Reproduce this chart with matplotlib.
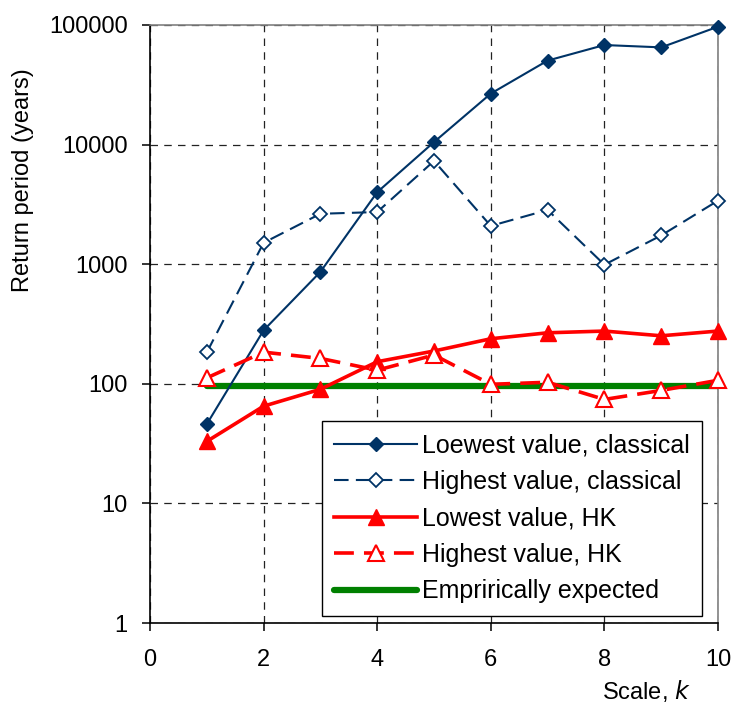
import matplotlib
matplotlib.use('Agg')
import matplotlib.pyplot as plt
from matplotlib.ticker import FixedLocator, FixedFormatter, NullLocator

plt.rcParams['font.family'] = ['Liberation Sans', 'DejaVu Sans']

# region [Data]
scale_k = [1, 2, 3, 4, 5, 6, 7, 8, 9, 10]

low_classical = [46, 280, 863, 4000, 10500, 26700, 50400, 68000, 65000, 96800]
high_classical = [183, 1510, 2640, 2730, 7300, 2090, 2840, 990, 1740, 3400]
low_hk = [33, 65, 90, 153, 188, 238, 267, 276, 252, 276]
high_hk = [112, 184, 163, 130, 174, 99, 103, 74, 88, 107]
expected = [96] * len(scale_k)

labels = ['Loewest value, classical', 'Highest value, classical',
          'Lowest value, HK', 'Highest value, HK', 'Emprirically expected']

x_ticks = [0, 2, 4, 6, 8, 10]
y_ticks = [1, 10, 100, 1000, 10000, 100000]
y_tick_labels = ['1', '10', '100', '1000', '10000', '100000']
# endregion

navy = '#003366'
red = '#ff0000'
green = '#008000'

fig = plt.figure(figsize=(7.34, 7.04), dpi=100)
ax = fig.add_axes([150 / 734, 1 - 623 / 704, 568 / 734, 598 / 704])

ax.set_yscale('log')
ax.set_xlim(0, 10)
ax.set_ylim(1, 100000)

ax.plot(scale_k, low_classical, color=navy, lw=1.5, marker='D', ms=7.5,
        mfc=navy, mec=navy, clip_on=False, zorder=5, label=labels[0])
ax.plot(scale_k, high_classical, color=navy, lw=1.5, ls=(0, (7, 3.5)),
        marker='D', ms=7.5, mfc='white', mec=navy, mew=1.3,
        clip_on=False, zorder=5, label=labels[1])
ax.plot(scale_k, low_hk, color=red, lw=2.6, marker='^', ms=12,
        mfc=red, mec=red, clip_on=False, zorder=6, label=labels[2])
ax.plot(scale_k, high_hk, color=red, lw=2.6, ls=(0, (5.5, 2.8)),
        marker='^', ms=12, mfc='white', mec=red, mew=1.5,
        clip_on=False, zorder=6, label=labels[3])
ax.plot(scale_k, expected, color=green, lw=4.5, solid_capstyle='round',
        zorder=4, label=labels[4])

# grid + spines in excel style
ax.xaxis.set_major_locator(FixedLocator(x_ticks))
ax.yaxis.set_major_locator(FixedLocator(y_ticks))
ax.yaxis.set_major_formatter(FixedFormatter(y_tick_labels))
ax.yaxis.set_minor_locator(NullLocator())
ax.grid(True, which='major', color='#222222', lw=0.9, ls=(0, (6, 5)))

ax.spines['left'].set_color('black')
ax.spines['bottom'].set_color('black')
ax.spines['top'].set_color('#808080')
ax.spines['right'].set_color('#808080')
for s in ax.spines.values():
  s.set_linewidth(1.2)

ax.tick_params(axis='both', direction='out', length=6, width=1.1,
               labelsize=17, color='black')
ax.tick_params(axis='x', pad=13)
ax.tick_params(axis='y', pad=10)

ax.set_ylabel('Return period (years)', fontsize=17)
ax.yaxis.set_label_coords(-0.205, 0.74)
ax.set_xlabel('Scale, $\\mathit{k}$', fontsize=17)
ax.xaxis.set_label_coords(0.873, -0.114)
ax.xaxis.label.set_va('center')

leg = ax.legend(loc='lower right', bbox_to_anchor=(0.972, 0.012),
                borderaxespad=0, fontsize=18, numpoints=1, handlelength=3.3,
                handletextpad=0.2, labelspacing=0.5, borderpad=0.5,
                frameon=True, fancybox=False, framealpha=1,
                edgecolor='black')
leg.get_frame().set_linewidth(1.0)
leg.set_zorder(10)

fig.savefig('out.png', dpi=100)
